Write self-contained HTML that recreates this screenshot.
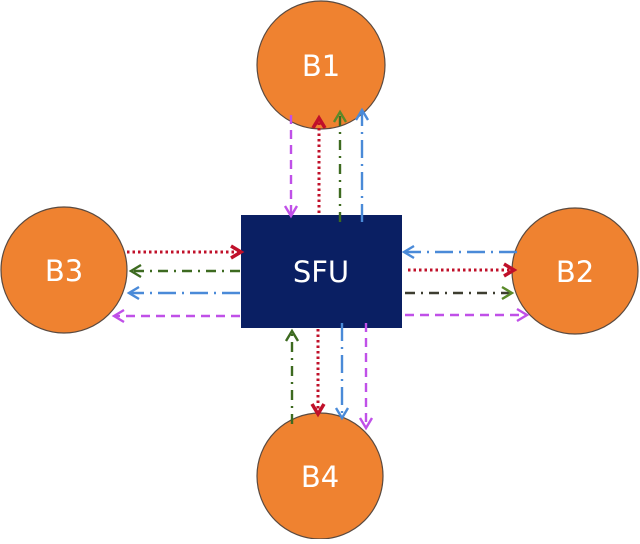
<!DOCTYPE html>
<html><head><meta charset="utf-8"><style>html,body{margin:0;padding:0;background:#fff}</style></head>
<body>
<svg width="640" height="539" viewBox="0 0 640 539" xmlns="http://www.w3.org/2000/svg" font-family="DejaVu Sans, sans-serif">
<g stroke="#5a4a40" stroke-width="1.2" fill="#ef8230">
<circle cx="321" cy="65" r="64"/>
<circle cx="64" cy="270" r="63"/>
<circle cx="575" cy="271" r="63"/>
<circle cx="320" cy="476" r="63"/>
</g>
<rect x="241" y="215" width="161" height="113" fill="#0a1f63"/>
<g fill="#fff" font-size="29" text-anchor="middle">
<text x="321" y="282">SFU</text>
<text x="321" y="76">B1</text>
<text x="64" y="281">B3</text>
<text x="575" y="282">B2</text>
<text x="320" y="487">B4</text>
</g>
<g fill="none" stroke-width="2.4" stroke-linecap="butt">
<path d="M291 115V216" stroke="#c050e8" stroke-dasharray="9,6"/>
<path d="M285 206l6 10 6-10" stroke="#c050e8"/>
<path d="M319 213V118" stroke="#c0102a" stroke-width="3" stroke-dasharray="2.5,3"/>
<path d="M313 128l6-10 6 10" stroke="#c0102a" stroke-width="3.5"/>
<path d="M340 222V112" stroke="#3d6a20" stroke-dasharray="10,6,2,6"/>
<path d="M334 122l6-10 6 10" stroke="#5a8a2a"/>
<path d="M362 222V110" stroke="#4a8ad8" stroke-dasharray="18,6,2,6"/>
<path d="M356 120l6-10 6 10" stroke="#4a8ad8"/>
<path d="M127 252H241" stroke="#c0102a" stroke-width="3" stroke-dasharray="2.5,3"/>
<path d="M231 246l10 6-10 6" stroke="#c0102a" stroke-width="3.5"/>
<path d="M240 271H131" stroke="#3d6a20" stroke-dasharray="10,6,2,6"/>
<path d="M141 265l-10 6 10 6" stroke="#3d6a20"/>
<path d="M240 293H129" stroke="#4a8ad8" stroke-dasharray="18,6,2,6"/>
<path d="M139 287l-10 6 10 6" stroke="#4a8ad8"/>
<path d="M240 316H114" stroke="#c050e8" stroke-dasharray="9,6"/>
<path d="M124 310l-10 6 10 6" stroke="#c050e8"/>
<path d="M517 252H404" stroke="#4a8ad8" stroke-dasharray="18,6,2,6"/>
<path d="M414 246l-10 6 10 6" stroke="#4a8ad8"/>
<path d="M408 270H514" stroke="#c0102a" stroke-width="3" stroke-dasharray="2.5,3"/>
<path d="M504 264l10 6-10 6" stroke="#c0102a" stroke-width="3.5"/>
<path d="M405 293H512" stroke="#3d3d30" stroke-dasharray="10,6,2,6"/>
<path d="M502 287l10 6-10 6" stroke="#5a8a2a"/>
<path d="M405 315H527" stroke="#c050e8" stroke-dasharray="9,6"/>
<path d="M517 309l10 6-10 6" stroke="#c050e8"/>
<path d="M292 424V331" stroke="#3d6a20" stroke-dasharray="10,6,2,6"/>
<path d="M286 341l6-10 6 10" stroke="#3d6a20"/>
<path d="M318 329V414" stroke="#c0102a" stroke-width="3" stroke-dasharray="2.5,3"/>
<path d="M312 404l6 10 6-10" stroke="#c0102a" stroke-width="3.5"/>
<path d="M342 323V418" stroke="#4a8ad8" stroke-dasharray="18,6,2,6"/>
<path d="M336 408l6 10 6-10" stroke="#4a8ad8"/>
<path d="M366 323V428" stroke="#c050e8" stroke-dasharray="9,6"/>
<path d="M360 418l6 10 6-10" stroke="#c050e8"/>
</g>
</svg>
</body></html>
